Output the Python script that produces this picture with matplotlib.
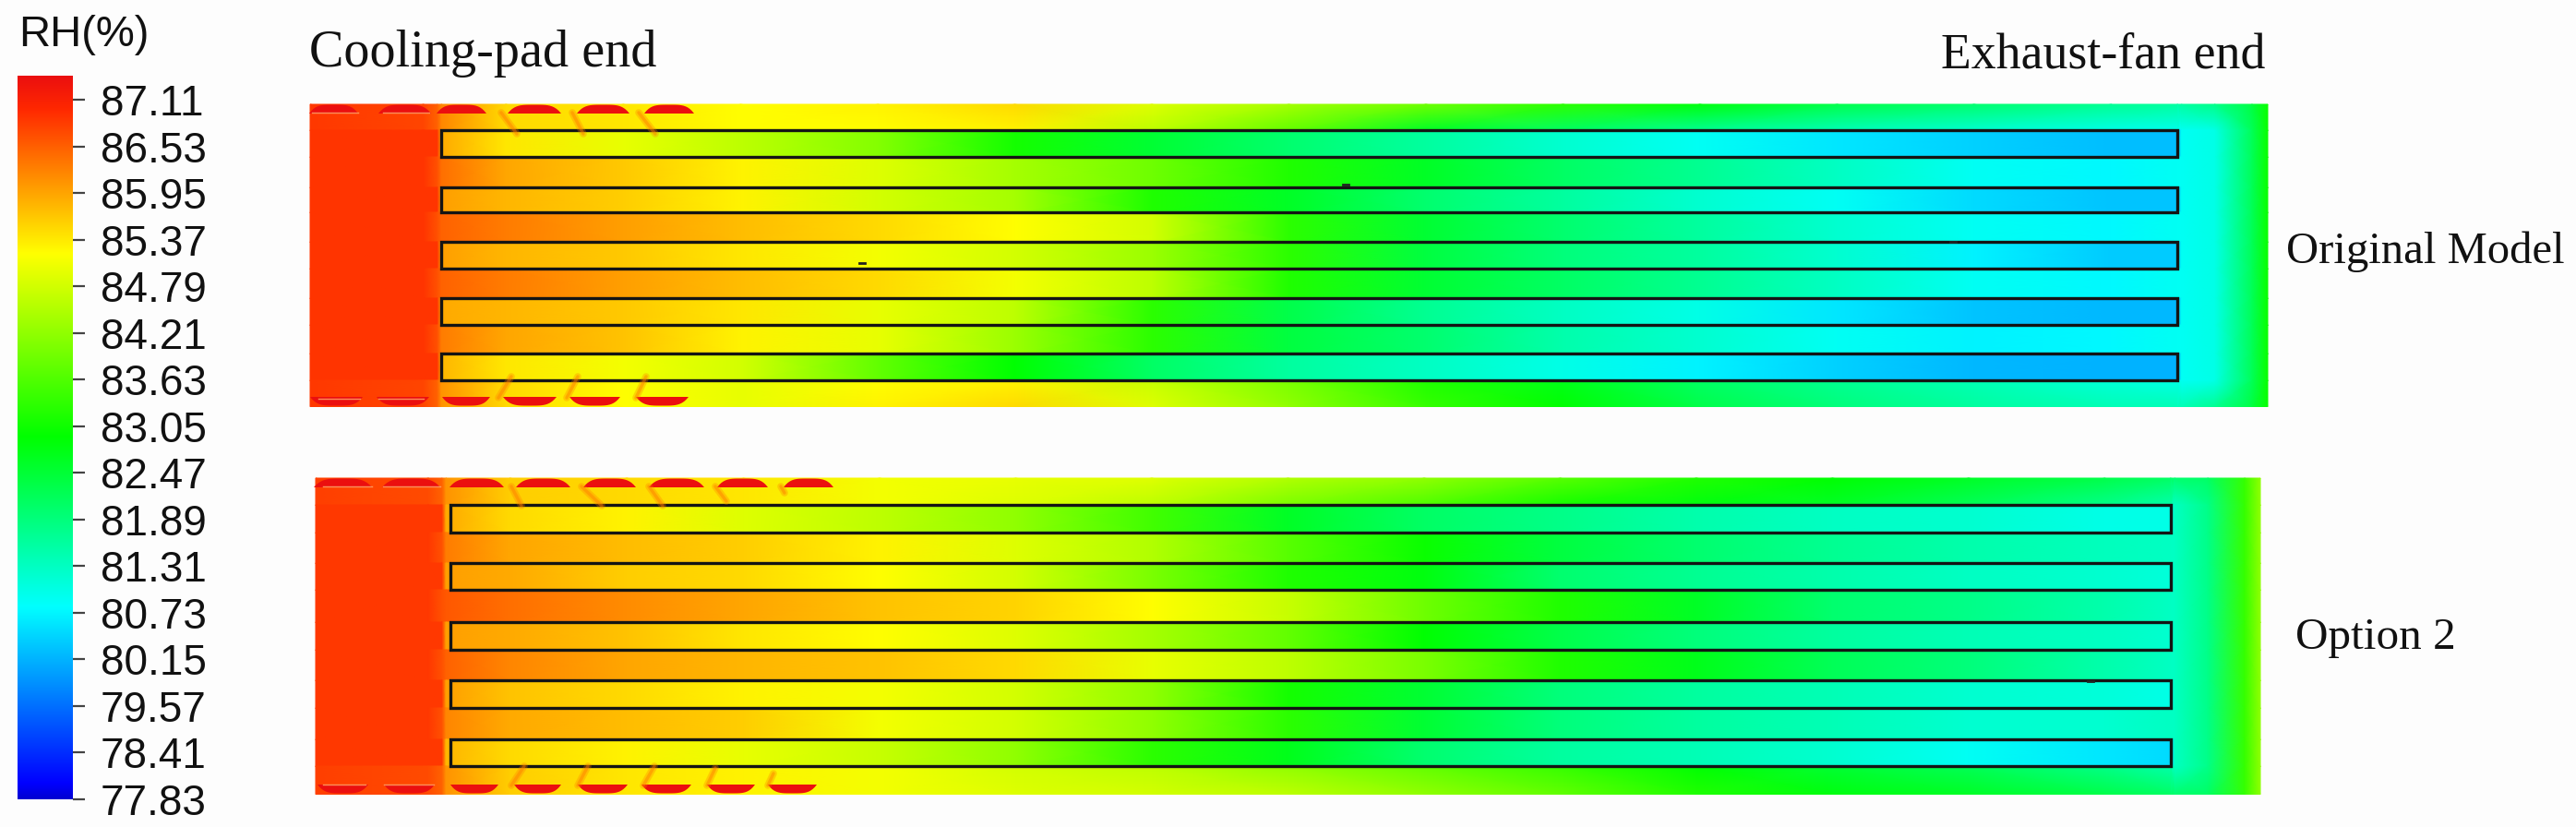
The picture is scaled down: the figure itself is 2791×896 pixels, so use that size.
import matplotlib
matplotlib.use('agg')
import numpy as np
import matplotlib.pyplot as plt
from matplotlib.colors import LinearSegmentedColormap, Normalize
from matplotlib.patches import Polygon, Rectangle

W, H = 2791, 896

# colour bar
tick_labels = ["87.11", "86.53", "85.95", "85.37", "84.79", "84.21", "83.63", "83.05",
               "82.47", "81.89", "81.31", "80.73", "80.15", "79.57", "78.41", "77.83"]
rh_top, rh_bottom = 87.41, 78.41
stop_rh = [78.41, 78.60, 80.80, 82.92, 85.20, 87.00, 87.41]
stop_colors = ["#0000d2", "#0000ff", "#00ffff", "#00ff00", "#ffff00", "#ff2800", "#eb0f0f"]

# position along the house, percent of the length
inlet_stations = [0, 5.8, 6.5]
stations = [6.7, 10, 16, 22, 29, 36, 43, 50, 57, 64, 71, 78, 85, 92, 95.4, 95.6, 97.3, 99.2, 100]

# RH(%) in the open zone in front of the plates
orig_inlet_wall = [86.85, 86.75, 86.5]
orig_inlet_plate = [86.9, 86.9, 86.9]
orig_inlet_gap = [86.9, 86.9, 86.65]
opt_inlet_wall = [86.8, 86.7, 86.5]
opt_inlet_plate = [86.85, 86.85, 86.85]
opt_inlet_gap = [86.85, 86.85, 86.65]

# original model, RH(%) read along each strip, top to bottom
orig_wall_top = [86.2, 85.5, 85.4, 85.2, 85.3, 85.5, 84.9, 84.4, 83.9, 83.3, 82.8, 82.3, 82.0, 81.7, 81.6, 81.6, 81.8, 82.4, 83.0]
orig_wall_top_inner = [86.2, 85.5, 85.4, 85.2, 85.2, 85.3, 84.6, 83.8, 82.6, 82.1, 81.7, 81.4, 81.2, 81.0, 80.95, 80.9, 81.0, 82.2, 83.0]
orig_plate1 = [85.9, 85.4, 85.0, 84.6, 84.1, 83.1, 82.5, 82.0, 81.6, 81.2, 80.9, 80.6, 80.4, 80.25, 80.25, 80.9, 81.0, 82.2, 83.0]
orig_gap1 = [86.4, 85.95, 85.65, 85.3, 84.9, 84.4, 83.9, 83.2, 82.6, 82.1, 81.7, 81.3, 80.9, 80.75, 80.9, 80.9, 81.0, 82.2, 83.0]
orig_plate2 = [86.0, 85.8, 85.6, 85.3, 84.8, 84.4, 83.2, 82.6, 82.0, 81.6, 81.2, 80.9, 80.5, 80.3, 80.3, 80.9, 81.0, 82.2, 83.0]
orig_gap2 = [86.5, 86.3, 86.0, 85.75, 85.5, 85.2, 84.8, 83.3, 82.5, 82.0, 81.6, 81.2, 80.9, 80.75, 80.9, 80.9, 81.0, 82.2, 83.0]
orig_plate3 = [86.0, 85.8, 85.65, 85.4, 85.1, 84.8, 84.3, 83.3, 82.4, 81.9, 81.6, 81.2, 80.7, 80.35, 80.35, 80.9, 81.0, 82.2, 83.0]
orig_gap3 = [86.5, 86.3, 86.0, 85.75, 85.5, 85.1, 84.6, 83.2, 82.5, 82.1, 81.7, 81.3, 80.9, 80.75, 80.9, 80.9, 81.0, 82.2, 83.0]
orig_plate4 = [85.9, 85.8, 85.65, 85.4, 85.0, 84.6, 83.3, 82.3, 81.7, 81.3, 81.0, 80.6, 80.3, 80.2, 80.2, 80.9, 81.0, 82.2, 83.0]
orig_gap4 = [86.3, 85.95, 85.7, 85.3, 85.0, 84.3, 83.3, 82.4, 82.0, 81.5, 81.2, 80.9, 80.7, 80.75, 80.9, 80.9, 81.0, 82.2, 83.0]
orig_plate5 = [85.8, 85.4, 85.1, 84.8, 83.8, 82.9, 82.1, 81.6, 81.3, 81.0, 80.7, 80.4, 80.2, 80.15, 80.15, 80.9, 81.0, 82.2, 83.0]
orig_wall_bottom_inner = [86.1, 85.5, 85.2, 85.0, 85.2, 85.3, 84.7, 84.0, 83.2, 82.7, 82.1, 81.7, 81.4, 81.1, 81.0, 80.9, 81.0, 82.2, 83.0]
orig_wall_bottom = [86.1, 85.5, 85.2, 85.0, 85.3, 85.5, 84.9, 84.2, 83.4, 82.9, 82.3, 81.9, 81.6, 81.4, 81.4, 81.4, 81.7, 82.4, 83.0]

# option 2
opt_wall_top = [86.1, 85.6, 85.5, 85.4, 85.1, 85.0, 84.9, 84.5, 84.2, 83.7, 83.2, 82.9, 82.6, 82.3, 82.1, 82.0, 82.1, 83.4, 84.2]
opt_wall_top_inner = [86.1, 85.6, 85.5, 85.4, 85.1, 84.9, 84.6, 84.0, 83.6, 83.1, 82.8, 82.6, 82.2, 81.8, 81.5, 81.3, 81.8, 83.4, 84.2]
opt_plate1 = [85.9, 85.5, 85.3, 84.9, 84.6, 84.2, 83.5, 82.6, 82.1, 81.8, 81.5, 81.3, 81.2, 81.0, 81.0, 81.3, 81.8, 83.4, 84.2]
opt_gap1 = [86.3, 85.95, 85.75, 85.6, 85.3, 84.9, 84.5, 83.7, 83.0, 82.4, 82.0, 81.7, 81.5, 81.35, 81.3, 81.3, 81.8, 83.4, 84.2]
opt_plate2 = [86.0, 85.9, 85.6, 85.5, 85.2, 84.8, 84.0, 83.2, 82.8, 82.0, 81.7, 81.5, 81.3, 81.2, 81.1, 81.3, 81.8, 83.4, 84.2]
opt_gap2 = [86.6, 86.4, 86.15, 85.95, 85.7, 85.55, 85.2, 84.7, 83.9, 83.2, 82.6, 82.0, 81.8, 81.5, 81.3, 81.3, 81.8, 83.4, 84.2]
opt_plate3 = [86.0, 85.9, 85.7, 85.4, 85.2, 84.9, 84.4, 83.8, 82.9, 82.3, 81.9, 81.6, 81.4, 81.3, 81.2, 81.3, 81.8, 83.4, 84.2]
opt_gap3 = [86.5, 86.2, 85.95, 85.8, 85.7, 85.5, 85.0, 84.6, 84.0, 83.2, 82.7, 82.2, 81.9, 81.5, 81.3, 81.3, 81.8, 83.4, 84.2]
opt_plate4 = [86.0, 85.7, 85.5, 85.3, 85.1, 84.8, 84.2, 83.1, 82.5, 81.9, 81.6, 81.4, 81.2, 81.1, 81.0, 81.3, 81.8, 83.4, 84.2]
opt_gap4 = [86.2, 85.9, 85.75, 85.6, 85.1, 84.8, 84.2, 83.3, 82.5, 81.9, 81.6, 81.4, 81.2, 81.2, 81.3, 81.3, 81.8, 83.4, 84.2]
opt_plate5 = [85.8, 85.5, 85.3, 85.0, 84.7, 84.2, 83.3, 82.7, 82.0, 81.6, 81.4, 81.2, 80.9, 80.6, 80.5, 81.3, 81.8, 83.4, 84.2]
opt_wall_bottom_inner = [86.1, 85.6, 85.4, 85.3, 85.1, 84.8, 84.6, 84.2, 83.8, 83.4, 82.9, 82.5, 82.2, 81.8, 81.5, 81.3, 81.8, 83.4, 84.2]
opt_wall_bottom = [86.1, 85.6, 85.4, 85.3, 85.1, 84.9, 84.8, 84.6, 84.2, 83.8, 83.2, 82.8, 82.6, 82.3, 82.1, 82.0, 82.1, 83.4, 84.2]

orig_strips = [(orig_wall_top, orig_wall_top_inner, orig_inlet_wall), (orig_plate1, orig_plate1, orig_inlet_plate),
               (orig_gap1, orig_gap1, orig_inlet_gap), (orig_plate2, orig_plate2, orig_inlet_plate),
               (orig_gap2, orig_gap2, orig_inlet_gap), (orig_plate3, orig_plate3, orig_inlet_plate),
               (orig_gap3, orig_gap3, orig_inlet_gap), (orig_plate4, orig_plate4, orig_inlet_plate),
               (orig_gap4, orig_gap4, orig_inlet_gap), (orig_plate5, orig_plate5, orig_inlet_plate),
               (orig_wall_bottom_inner, orig_wall_bottom, orig_inlet_wall)]
opt_strips = [(opt_wall_top, opt_wall_top_inner, opt_inlet_wall), (opt_plate1, opt_plate1, opt_inlet_plate),
              (opt_gap1, opt_gap1, opt_inlet_gap), (opt_plate2, opt_plate2, opt_inlet_plate),
              (opt_gap2, opt_gap2, opt_inlet_gap), (opt_plate3, opt_plate3, opt_inlet_plate),
              (opt_gap3, opt_gap3, opt_inlet_gap), (opt_plate4, opt_plate4, opt_inlet_plate),
              (opt_gap4, opt_gap4, opt_inlet_gap), (opt_plate5, opt_plate5, opt_inlet_plate),
              (opt_wall_bottom_inner, opt_wall_bottom, opt_inlet_wall)]

# panel geometry in image pixels
orig_box = (336, 2457, 113, 440)
orig_plate_x = (478, 2359)
orig_plate_y = [(141, 170), (203, 230), (262, 291), (323, 352), (383, 412)]
orig_pads_top = [(335, 388), (410, 467), (473, 527), (550, 608), (625, 682), (698, 752)]
orig_pads_bottom = [(336, 393), (408, 465), (479, 531), (545, 603), (617, 672), (689, 746)]
orig_wisps = [(543, 122, 560, 145), (620, 122, 632, 145), (692, 122, 710, 145),
              (540, 431, 554, 408), (614, 431, 626, 408), (689, 431, 700, 408)]
orig_seams = [(338, 388, 122), (415, 465, 122), (345, 390, 432), (410, 459, 432)]

opt_box = (342, 2449, 518, 860)
opt_plate_x = (488, 2352)
opt_plate_y = [(547, 577), (610, 639), (674, 704), (737, 767), (801, 830)]
opt_pads_top = [(340, 403), (414, 477), (487, 546), (559, 618), (632, 689), (703, 763), (777, 832), (849, 903)]
opt_pads_bottom = [(344, 399), (416, 471), (488, 540), (557, 608), (626, 680), (695, 749), (766, 818), (832, 885)]
opt_wisps = [(554, 527, 565, 548), (630, 527, 652, 548), (703, 527, 718, 548), (775, 527, 787, 543), (846, 527, 850, 534),
             (554, 851, 568, 830), (626, 851, 637, 830), (697, 851, 709, 830), (766, 851, 775, 832), (832, 851, 838, 838)]
opt_seams = [(350, 403, 527), (415, 477, 527), (350, 396, 850), (416, 470, 850)]

specks = [(934, 285), (1458, 200), (2116, 262), (2265, 738)]

cmap = LinearSegmentedColormap.from_list(
    "fluent", [((v - rh_bottom) / (rh_top - rh_bottom), c) for v, c in zip(stop_rh, stop_colors)], N=512)
norm = Normalize(rh_bottom, rh_top)


def pad_outline(a, b, wall, sign):
    # rounded lens sitting on the wall, sign points into the room
    t = np.linspace(0, 1, 25)
    xs = a + (b - a) * t
    ys = wall + sign * (10 - 9.5 * (1 - (2 * t - 1) ** 4))
    return np.column_stack([xs, ys])


def draw_panel(ax, strips, box, plate_x, plate_y, pads_top, pads_bottom, wisps, seams):
    x0, x1, y0, y1 = box
    xs = x0 + np.array(inlet_stations + stations) / 100 * (x1 - x0)
    edges = [y0] + [v for pair in plate_y for v in pair] + [y1]
    for k, (upper, lower, inlet) in enumerate(strips):
        X, Y = np.meshgrid(xs, [edges[k], edges[k + 1] + 0.5])
        ax.pcolormesh(X, Y, np.array([inlet + upper, inlet + lower]), cmap=cmap, norm=norm, shading='gouraud')

    wisp_color = cmap(norm(86.3))
    for xa, ya, xb, yb in wisps:
        ax.plot([xa, xb], [ya, yb], color=wisp_color, lw=5.5, alpha=0.3, solid_capstyle='round')
        ax.plot([xa, xb], [ya, yb], color=wisp_color, lw=2.5, alpha=0.45, solid_capstyle='round')

    pad_color = cmap(norm(87.41))
    for a, b in pads_top:
        ax.add_patch(Polygon(pad_outline(a, b, y0, 1), closed=True, fc=pad_color, ec='none'))
    for a, b in pads_bottom:
        ax.add_patch(Polygon(pad_outline(a, b, y1, -1), closed=True, fc=pad_color, ec='none'))
    for a, b, y in seams:
        ax.plot([a, b], [y, y], color='#ffb070', lw=1.0, alpha=0.8)

    for ya, yb in plate_y:
        ax.add_patch(Rectangle((plate_x[0], ya), plate_x[1] - plate_x[0], yb - ya,
                               fill=False, ec='#141414', lw=2.4, joinstyle='miter'))


fig = plt.figure(figsize=(W / 100, H / 100), dpi=100, facecolor='#fdfdfd')
ax = fig.add_axes([0, 0, 1, 1])
ax.set_xlim(0, W)
ax.set_ylim(H, 0)
ax.axis('off')

draw_panel(ax, orig_strips, orig_box, orig_plate_x, orig_plate_y, orig_pads_top, orig_pads_bottom, orig_wisps, orig_seams)
draw_panel(ax, opt_strips, opt_box, opt_plate_x, opt_plate_y, opt_pads_top, opt_pads_bottom, opt_wisps, opt_seams)

for sx, sy in specks:
    ax.plot([sx - 3, sx + 3], [sy, sy], color='#222222', lw=2)

serif = dict(family='Liberation Serif', color='#111111', va='baseline', ha='left')
ax.text(335, 72, "Cooling-pad end", fontsize=40.5, **serif)
ax.text(2103, 74, "Exhaust-fan end", fontsize=38.7, **serif)
ax.text(2477, 285, "Original Model", fontsize=35, **serif)
ax.text(2487, 703, "Option 2", fontsize=35.5, **serif)
ax.text(20, 50, "RH(%)", family='Liberation Sans', fontsize=34, color='#111111', va='baseline', ha='left')

# colour bar, ticks stay evenly spaced as on the original legend
cax = fig.add_axes([19 / W, 1 - 866 / H, 60 / W, (866 - 82) / H])
gradient = np.linspace(rh_top, rh_bottom, 512).reshape(-1, 1)
cax.imshow(gradient, aspect='auto', cmap=cmap, norm=norm, extent=[0, 1, rh_bottom, rh_top])
cax.set_xticks([])
tick_pos = [87.11 - 0.58 * i for i in range(len(tick_labels))]
cax.yaxis.tick_right()
cax.set_yticks(tick_pos)
cax.set_yticklabels(tick_labels, family='Liberation Sans', fontsize=33, color='#111111')
cax.tick_params(axis='y', length=9.4, width=1.6, color='#444444', pad=12)
for s in cax.spines.values():
    s.set_visible(False)

fig.savefig('out.png', dpi=100, facecolor=fig.get_facecolor())
